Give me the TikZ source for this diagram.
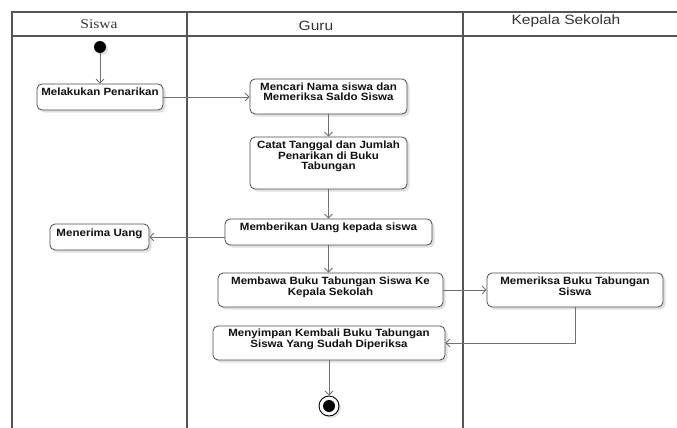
\documentclass[tikz,border=0pt]{standalone}
\usepackage{fontspec}
\setmainfont{Liberation Sans}
\newfontfamily\boxfont[FakeStretch=1.1]{Liberation Sans}
\newfontfamily\headsans[FakeStretch=1.15]{Liberation Sans}
\newfontfamily\headserif[FakeStretch=1.15]{Liberation Serif}
\usetikzlibrary{arrows.meta,shadows}
\definecolor{lanecol}{HTML}{555555}
\definecolor{boxcol}{HTML}{4A4A4A}
\definecolor{arrcol}{HTML}{707070}
\definecolor{txtcol}{HTML}{111111}
\tikzset{
  lane/.style={draw=lanecol, line width=1.1pt},
  actbox/.style={draw=boxcol, line width=0.8pt, rounded corners=5pt, fill=white, inner sep=0pt,
    drop shadow={shadow xshift=2.5pt, shadow yshift=-2.5pt, fill=black, opacity=0.12}},
  acttext/.style={anchor=north, align=center, inner sep=0pt, text=txtcol,
    font=\boxfont\bfseries\fontsize{10.5}{9.5}\selectfont},
  flow/.style={draw=arrcol, line width=0.8pt, -{Straight Barb[length=4pt,width=8pt]}},
  headtxt/.style={inner sep=0pt, anchor=base, text=black!80}
}
\begin{document}
\begin{tikzpicture}[x=1pt,y=-1pt]
\useasboundingbox (0,0) rectangle (677,428);
% swimlanes
\draw[lane] (12,428) -- (12,12) -- (677,12);
\draw[lane] (12,36) -- (677,36);
\draw[lane] (187,12) -- (187,428);
\draw[lane] (463,12) -- (463,428);
\node[headtxt, font=\headserif\fontsize{13.5}{14}\selectfont] (hsiswa) at (99,29) {Siswa};
\node[headtxt, font=\headsans\fontsize{13.5}{14}\selectfont] (hguru) at (316,31) {Guru};
\node[headtxt, font=\headsans\fontsize{13.5}{14}\selectfont] (hkepala) at (566,25) {Kepala Sekolah};
% start
\node[circle, fill=black, minimum size=12pt, inner sep=0pt,
  drop shadow={shadow xshift=2pt, shadow yshift=-2pt, fill=black, opacity=0.12}] (start) at (100,47) {};
% activities
\node[actbox, minimum width=126pt, minimum height=26pt] (mel) at (100,97) {};
\node[acttext] (meltxt) at (100,88) {Melakukan Penarikan};
\node[actbox, minimum width=157pt, minimum height=35pt] (mencari) at (328.5,96.5) {};
\node[acttext] (mencaritxt) at (328.5,83) {Mencari Nama siswa dan\\Memeriksa Saldo Siswa};
\node[actbox, minimum width=157pt, minimum height=52pt] (catat) at (328.5,163) {};
\node[acttext] (catattxt) at (328.5,141) {Catat Tanggal dan Jumlah\\Penarikan di Buku\\Tabungan};
\node[actbox, minimum width=207pt, minimum height=26pt] (memberikan) at (328.5,232) {};
\node[acttext] (memberikantxt) at (328.5,223) {Memberikan Uang kepada siswa};
\node[actbox, minimum width=99pt, minimum height=26pt] (menerima) at (99.5,237) {};
\node[acttext] (menerimatxt) at (99.5,229) {Menerima Uang};
\node[actbox, minimum width=225pt, minimum height=34pt] (membawa) at (330.5,290) {};
\node[acttext] (membawatxt) at (330.5,277) {Membawa Buku Tabungan Siswa Ke\\Kepala Sekolah};
\node[actbox, minimum width=176pt, minimum height=34pt] (memeriksa) at (575,290) {};
\node[acttext] (memeriksatxt) at (575,277) {Memeriksa Buku Tabungan\\Siswa};
\node[actbox, minimum width=232pt, minimum height=34pt] (menyimpan) at (329,343) {};
\node[acttext] (menyimpantxt) at (329,329) {Menyimpan Kembali Buku Tabungan\\Siswa Yang Sudah Diperiksa};
% end
\node[circle, draw=black, line width=0.9pt, fill=white, minimum size=20pt, inner sep=0pt,
  drop shadow={shadow xshift=2pt, shadow yshift=-2pt, fill=black, opacity=0.12}] (final) at (329,406) {};
\node[circle, fill=black, minimum size=12pt, inner sep=0pt] (finalin) at (final.center) {};
% flows
\draw[flow] (start) -- (mel.north);
\draw[flow] (mel.east) -- (mel.east -| mencari.west);
\draw[flow] (mencari.south) -- (mencari.south |- catat.north);
\draw[flow] (catat.south) -- (catat.south |- memberikan.north);
\draw[flow] (menerima.east -| memberikan.west) -- (menerima.east);
\draw[flow] (memberikan.south) -- (memberikan.south |- membawa.north);
\draw[flow] (membawa.east) -- (memeriksa.west);
\draw[flow] (memeriksa.south) |- (menyimpan.east);
\draw[flow] (menyimpan.south) -- (final.north);
\end{tikzpicture}
\end{document}
